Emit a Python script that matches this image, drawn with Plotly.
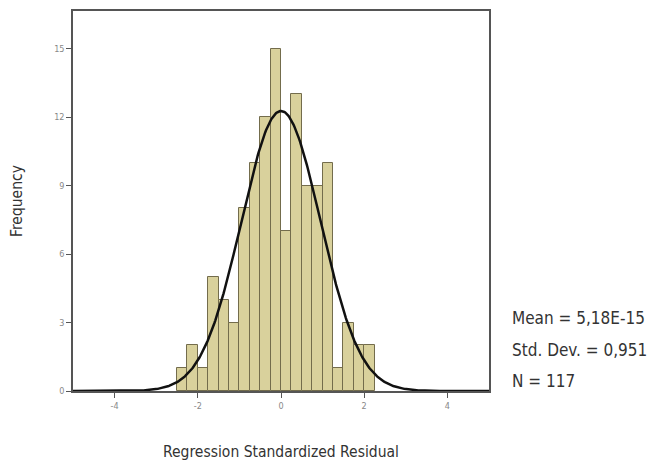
import math
import plotly.graph_objects as go

# Histogram data (bin left edges, width 0.25)
bin_left = [-2.5, -2.25, -2.0, -1.75, -1.5, -1.25, -1.0, -0.75, -0.5, -0.25,
            0.0, 0.25, 0.5, 0.75, 1.0, 1.25, 1.5, 1.75, 2.0]
counts = [1, 2, 1, 5, 4, 3, 8, 10, 12, 15,
          7, 13, 9, 9, 10, 1, 3, 2, 2]
bin_width = 0.25

# Summary statistics
mean_val = 5.18e-15
std_val = 0.951
n_val = 117

x_ticks = [-4, -2, 0, 2, 4]
y_ticks = [0, 3, 6, 9, 12, 15]

centers = [b + bin_width / 2 for b in bin_left]

# Normal curve fitted from the reported statistics
curve_x = [-5 + i * 0.02 for i in range(501)]
scale = n_val * bin_width / (std_val * math.sqrt(2 * math.pi))
curve_y = [scale * math.exp(-0.5 * ((x - mean_val) / std_val) ** 2) for x in curve_x]

FONT = "DejaVu Sans Condensed, Liberation Sans Narrow, Arial Narrow, Liberation Sans, sans-serif"

fig = go.Figure()
fig.add_trace(go.Bar(
    x=centers, y=counts, width=bin_width,
    marker=dict(color="#d9d19c", line=dict(color="#736c4c", width=1)),
    showlegend=False,
))
fig.add_trace(go.Scatter(
    x=curve_x, y=curve_y, mode="lines",
    line=dict(color="#111111", width=2.5),
    showlegend=False,
))

fig.update_layout(
    width=648, height=460,
    margin=dict(l=65, r=167, t=1, b=77),
    paper_bgcolor="white", plot_bgcolor="white",
    font=dict(family=FONT, color="#333333"),
    bargap=0,
    xaxis=dict(
        range=[-5, 5], tickvals=x_ticks, ticktext=[str(v) for v in x_ticks],
        showgrid=False, zeroline=False,
        showline=True, mirror=True, linecolor="#555555", linewidth=1.5,
        ticks="outside", ticklen=5, tickcolor="#555555",
        tickfont=dict(size=9, color="#888888"),
        title=dict(text="Regression Standardized Residual",
                   font=dict(size=15.5, color="#333333"), standoff=37),
    ),
    yaxis=dict(
        range=[0, 16.65], tickvals=y_ticks, ticktext=[str(v) for v in y_ticks],
        showgrid=False, zeroline=False,
        showline=True, mirror=True, linecolor="#555555", linewidth=1.5,
        ticks="outside", ticklen=5, tickcolor="#555555",
        tickfont=dict(size=9, color="#888888"),
        title=dict(text="Frequency", font=dict(size=15.5, color="#333333"), standoff=31),
    ),
)

stats_lines = [
    "Mean = 5,18E-15",
    "Std. Dev. = 0,951",
    "N = " + str(n_val),
]
for i, t in enumerate(stats_lines):
    fig.add_annotation(
        text=t, xref="paper", yref="paper",
        x=(510 - 73) / 416, y=(391 - (318 + 31.5 * i)) / 382,
        xanchor="left", yanchor="middle", showarrow=False,
        font=dict(size=17, color="#333333", family=FONT),
    )

fig.write_html("out.html")
